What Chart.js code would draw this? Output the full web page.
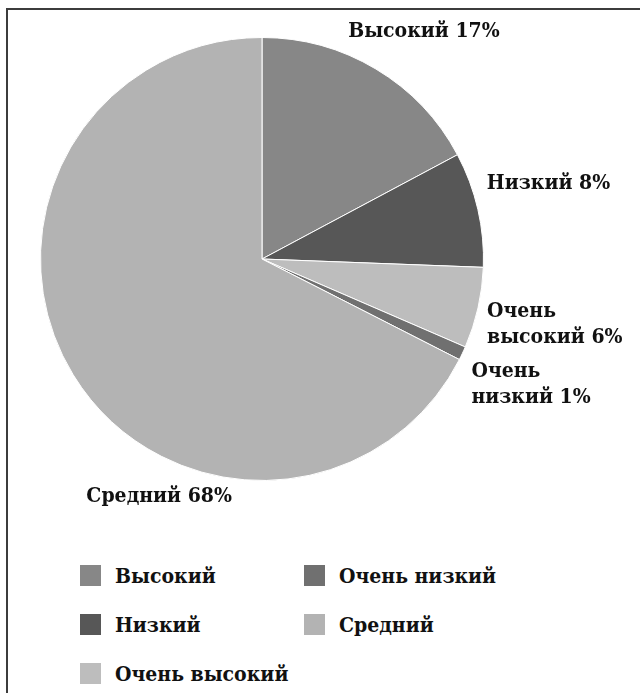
<!DOCTYPE html>
<html>
<head>
<meta charset="utf-8">
<script src="https://cdn.jsdelivr.net/npm/chart.js@4.4.1/dist/chart.umd.min.js"></script>
<style>
  html, body { margin: 0; padding: 0; background: #fff; }
  body { width: 640px; height: 693px; position: relative; overflow: hidden; }
  #frame { position: absolute; left: 6px; top: 8px; right: 0; bottom: 0;
           border-top: 2px solid #3c3c3c; border-left: 2px solid #3c3c3c; }
  #wrap { position: absolute; left: 0; top: 0; width: 640px; height: 545px; }
  #legend { position: absolute; left: 80px; top: 565px; }
  .item { position: absolute; display: flex; align-items: center; height: 21px;
          font: bold condensed 21px "DejaVu Serif Condensed", "DejaVu Serif", serif;
          color: #111; white-space: nowrap; }
  .box { width: 21px; height: 21px; margin-right: 14px; }
</style>
</head>
<body>
<div id="frame"></div>
<div id="wrap"><canvas id="pieChart"></canvas></div>
<div id="legend"></div>
<script>
// slices, clockwise from 12 o'clock
const labels = ["Высокий", "Низкий", "Очень высокий", "Очень низкий", "Средний"];
const shares = [17.2, 8.4, 5.9, 1.0, 67.5];
const colors = ["#878787", "#575757", "#bdbdbd", "#707070", "#b3b3b3"];
// text shown next to each slice ("\n" = line break)
const sliceText = ["Высокий", "Низкий", "Очень\nвысокий", "Очень\nнизкий", "Средний"];

// nudges from the slice's outer mid-point to its label
const labelNudge = [
  { dx: 48, dy: -38, align: "center" },
  { dx: 9, dy: -26, align: "left" },
  { dx: 9, dy: 17, align: "left" },
  { dx: 9, dy: 31, align: "left" },
  { dx: 86, dy: 122, align: "center" }
];

const outsideLabels = {
  id: "outsideLabels",
  afterDatasetsDraw(chart) {
    const ctx = chart.ctx;
    const meta = chart.getDatasetMeta(0);
    ctx.save();
    ctx.font = "bold condensed 21px 'DejaVu Serif Condensed', 'DejaVu Serif', serif";
    if ("fontStretch" in ctx) ctx.fontStretch = "condensed";
    ctx.fillStyle = "#111";
    ctx.textBaseline = "middle";
    meta.data.forEach((arc, i) => {
      const p = arc.getProps(["x", "y", "startAngle", "endAngle", "outerRadius"], true);
      const mid = (p.startAngle + p.endAngle) / 2;
      const ax = p.x + Math.cos(mid) * p.outerRadius;
      const ay = p.y + Math.sin(mid) * p.outerRadius;
      const n = labelNudge[i];
      const lines = (sliceText[i] + " " + Math.round(shares[i]) + "%").split("\n");
      const lh = 26;
      ctx.textAlign = n.align;
      lines.forEach((ln, k) => {
        const y = ay + n.dy + (k - (lines.length - 1) / 2) * lh;
        ctx.fillText(ln, ax + n.dx, y);
      });
    });
    ctx.restore();
  }
};

const chart = new Chart(document.getElementById("pieChart"), {
  type: "pie",
  data: {
    labels,
    datasets: [{
      data: shares,
      backgroundColor: colors,
      borderColor: "#ffffff",
      borderWidth: 1
    }]
  },
  options: {
    responsive: true,
    maintainAspectRatio: false,
    animation: false,
    layout: { padding: { left: 40, top: 37, right: 156, bottom: 64 } },
    plugins: {
      legend: { display: false },
      tooltip: { enabled: false }
    }
  },
  plugins: [outsideLabels]
});

// legend: two columns, filled top to bottom
const legend = document.getElementById("legend");
labels.forEach((name, i) => {
  const col = Math.floor(i / 3), row = i % 3;
  const item = document.createElement("div");
  item.className = "item";
  item.style.left = (col * 224) + "px";
  item.style.top = (row * 49) + "px";
  item.innerHTML = '<span class="box" style="background:' + colors[i] + '"></span>' + name;
  legend.appendChild(item);
});
</script>
</body>
</html>
